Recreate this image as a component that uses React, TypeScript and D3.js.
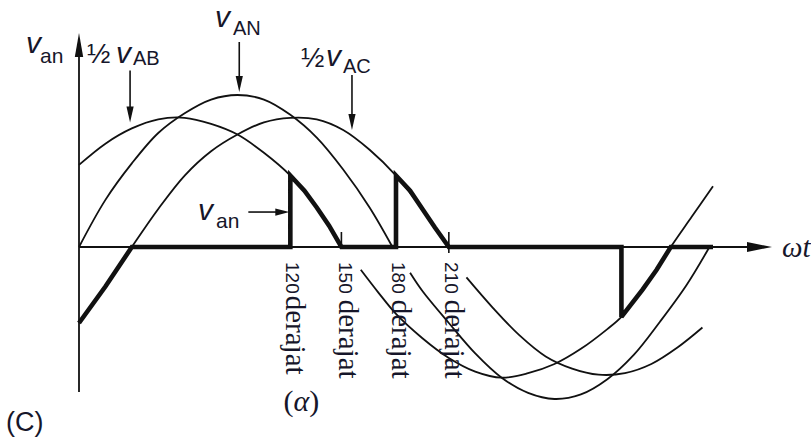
import React from "react";
import * as d3 from "d3";

const W = 811;
const H = 446;

// Phase voltage v_AN (per unit of its peak), drawn as two lobes
const vanPosDeg = [0, 15, 30, 45, 60, 75, 90, 105, 120, 135, 150, 165, 178];
const vanPosVal = [0, 0.31, 0.55, 0.75, 0.88, 0.97, 1.0, 0.97, 0.87, 0.72, 0.51, 0.26, 0];
const vanNegDeg = [188, 195, 210, 225, 240, 255, 270, 285, 300, 315, 330, 345, 358];
const vanNegVal = [-0.17, -0.29, -0.5, -0.7, -0.86, -0.96, -1.0, -0.97, -0.87, -0.71, -0.49, -0.25, 0];

// Half line voltage 1/2 v_AB
const halfVabPosDeg = [0, 15, 30, 45, 60, 75, 90, 105, 120, 135, 149];
const halfVabPosVal = [0.54, 0.68, 0.78, 0.84, 0.85, 0.81, 0.74, 0.62, 0.47, 0.26, 0];
const halfVabNegDeg = [160, 170, 180, 195, 210, 225, 240, 255, 270, 285, 300, 308, 320, 336, 348, 360];
const halfVabNegVal = [-0.15, -0.3, -0.44, -0.6, -0.73, -0.82, -0.86, -0.83, -0.77, -0.67, -0.54, -0.46, -0.28, 0, 0.2, 0.4];

// Half line voltage 1/2 v_AC
const halfVacPosDeg = [0, 15, 30, 45, 60, 75, 90, 105, 120, 135, 150, 165, 180, 195, 210];
const halfVacPosVal = [-0.5, -0.26, 0, 0.25, 0.47, 0.63, 0.74, 0.82, 0.85, 0.84, 0.77, 0.64, 0.47, 0.25, 0];
const halfVacNegDeg = [220, 235, 250, 265, 280, 295, 310, 325, 340, 354];
const halfVacNegVal = [-0.2, -0.4, -0.58, -0.72, -0.8, -0.84, -0.83, -0.77, -0.66, -0.53];

// Controller output v_an with firing angle alpha = 120 deg
const outDeg = [0, 15, 30, 120, 120, 128, 135, 142, 149, 180, 180, 188, 195, 202, 210, 308, 308, 320, 328, 336, 360];
const outVal = [-0.5, -0.26, 0, 0, 0.47, 0.37, 0.26, 0.14, 0, 0, 0.47, 0.37, 0.25, 0.13, 0, 0, -0.46, -0.28, -0.15, 0, 0];

// Angle ticks written under the axis
const tickDeg = [120, 150, 180, 210];
const tickNum = ["120", "150", "180", "210"];
const tickWord = "derajat";

// Extinction marks where the output current falls to zero
const extinctionDeg = [149, 210];

type Pt = [number, number];
const zipPts = (a: number[], b: number[]): Pt[] => a.map((d, i) => [d, b[i]]);

const INK = "#111";
const TEXT = "#16162a";
const SANS = "'Liberation Sans', Arial, Helvetica, sans-serif";
const SERIF = "'Liberation Serif', 'Times New Roman', serif";

export default function App() {
  const x = d3.scaleLinear().domain([0, 360]).range([79, 713]);
  const y = d3.scaleLinear().domain([-1, 1]).range([399, 95]);

  const smooth = d3
    .line<Pt>()
    .x((d) => x(d[0]))
    .y((d) => y(d[1]))
    .curve(d3.curveCatmullRom.alpha(0.5));
  const straight = d3
    .line<Pt>()
    .x((d) => x(d[0]))
    .y((d) => y(d[1]));

  const thinCurves: Pt[][] = [
    zipPts(vanPosDeg, vanPosVal),
    zipPts(vanNegDeg, vanNegVal),
    zipPts(halfVabPosDeg, halfVabPosVal),
    zipPts(halfVabNegDeg, halfVabNegVal),
    zipPts(halfVacPosDeg, halfVacPosVal),
    zipPts(halfVacNegDeg, halfVacNegVal),
  ];
  const output = zipPts(outDeg, outVal);

  const x0 = x(0);
  const y0 = y(0);
  const axisEnd = 772;

  // Down-pointing annotation arrow; tip placed on a curve point
  const downArrow = (deg: number, val: number, len: number, key: string) => {
    const ax = x(deg);
    const tip = y(val) - 3;
    return (
      <g key={key}>
        <line x1={ax} y1={tip - len} x2={ax} y2={tip - 10} stroke={INK} strokeWidth={1.6} />
        <path d={`M${ax},${tip} L${ax - 3.6},${tip - 16} L${ax + 3.6},${tip - 16} Z`} fill={INK} />
      </g>
    );
  };

  return (
    <div style={{ position: "fixed", left: 0, top: 0, width: W, height: H, background: "#fff" }}>
      <svg width={W} height={H} viewBox={`0 0 ${W} ${H}`} style={{ display: "block" }}>
        <rect width={W} height={H} fill="#fff" />

        {/* axes */}
        <line x1={x0} y1={392} x2={x0} y2={50} stroke={INK} strokeWidth={1.8} />
        <path d={`M${x0},33 L${x0 - 4.2},57 L${x0 + 4.2},57 Z`} fill={INK} />
        <line x1={x0} y1={y0} x2={axisEnd - 18} y2={y0} stroke={INK} strokeWidth={1.8} />
        <path d={`M${axisEnd},${y0} L${axisEnd - 25},${y0 - 5} L${axisEnd - 25},${y0 + 5} Z`} fill={INK} />

        {/* supply waveforms */}
        {thinCurves.map((c, i) => (
          <path key={i} d={smooth(c) || ""} fill="none" stroke={INK} strokeWidth={1.8} />
        ))}

        {/* output voltage */}
        <path
          d={straight(output) || ""}
          fill="none"
          stroke={INK}
          strokeWidth={4.6}
          strokeLinejoin="miter"
          strokeMiterlimit={3}
        />

        {extinctionDeg.map((d, i) => (
          <line
            key={`ext${i}`}
            x1={x(d)}
            x2={x(d)}
            y1={y0 - 15}
            y2={y0 + (i === 0 ? 0 : 6)}
            stroke={INK}
            strokeWidth={1.6}
          />
        ))}

        {/* curve annotations */}
        {downArrow(29, 0.8, 52, "aab")}
        {downArrow(91, 1.0, 50, "aan")}
        {downArrow(155, 0.75, 55, "aac")}
        <line x1={x(120) - 42} y1={y(0.23)} x2={x(120) - 12} y2={y(0.23)} stroke={INK} strokeWidth={1.6} />
        <path
          d={`M${x(120) - 1},${y(0.23)} L${x(120) - 15},${y(0.23) - 3.6} L${x(120) - 15},${y(0.23) + 3.6} Z`}
          fill={INK}
        />

        <g fill={TEXT} fontFamily={SANS}>
          <text x={26} y={53} fontSize={30} fontStyle="italic">v</text>
          <text x={40} y={63} fontSize={21}>an</text>

          <text x={87} y={63} fontSize={28}>½</text>
          <text x={116} y={63} fontSize={30} fontStyle="italic">v</text>
          <text x={133} y={65} fontSize={20}>AB</text>

          <text x={215} y={27} fontSize={30} fontStyle="italic">v</text>
          <text x={233} y={35} fontSize={20}>AN</text>

          <text x={301} y={67} fontSize={28}>½</text>
          <text x={326} y={66} fontSize={30} fontStyle="italic">v</text>
          <text x={343} y={73} fontSize={20}>AC</text>

          <text x={198} y={220} fontSize={30} fontStyle="italic">v</text>
          <text x={216} y={228} fontSize={21}>an</text>

          <text x={6} y={431} fontSize={27}>(C)</text>
        </g>

        {/* angle labels, written downward */}
        {tickDeg.map((d, i) => (
          <text
            key={`t${d}`}
            transform={`translate(${x(d) - 4},262) rotate(90)`}
            fill={TEXT}
          >
            <tspan fontFamily={SANS} fontSize={19}>{tickNum[i]}</tspan>
            <tspan fontFamily={SERIF} fontSize={29} dx={i === 0 ? 2 : 6}>{tickWord}</tspan>
          </text>
        ))}

        <text x={x(120) + 11} y={411} textAnchor="middle" fill={TEXT} fontFamily={SERIF} fontSize={30}>
          (<tspan fontStyle="italic">α</tspan>)
        </text>

        <text x={782} y={257} fill={TEXT} fontFamily={SERIF} fontSize={29} fontStyle="italic">
          ωt
        </text>
      </svg>
    </div>
  );
}
